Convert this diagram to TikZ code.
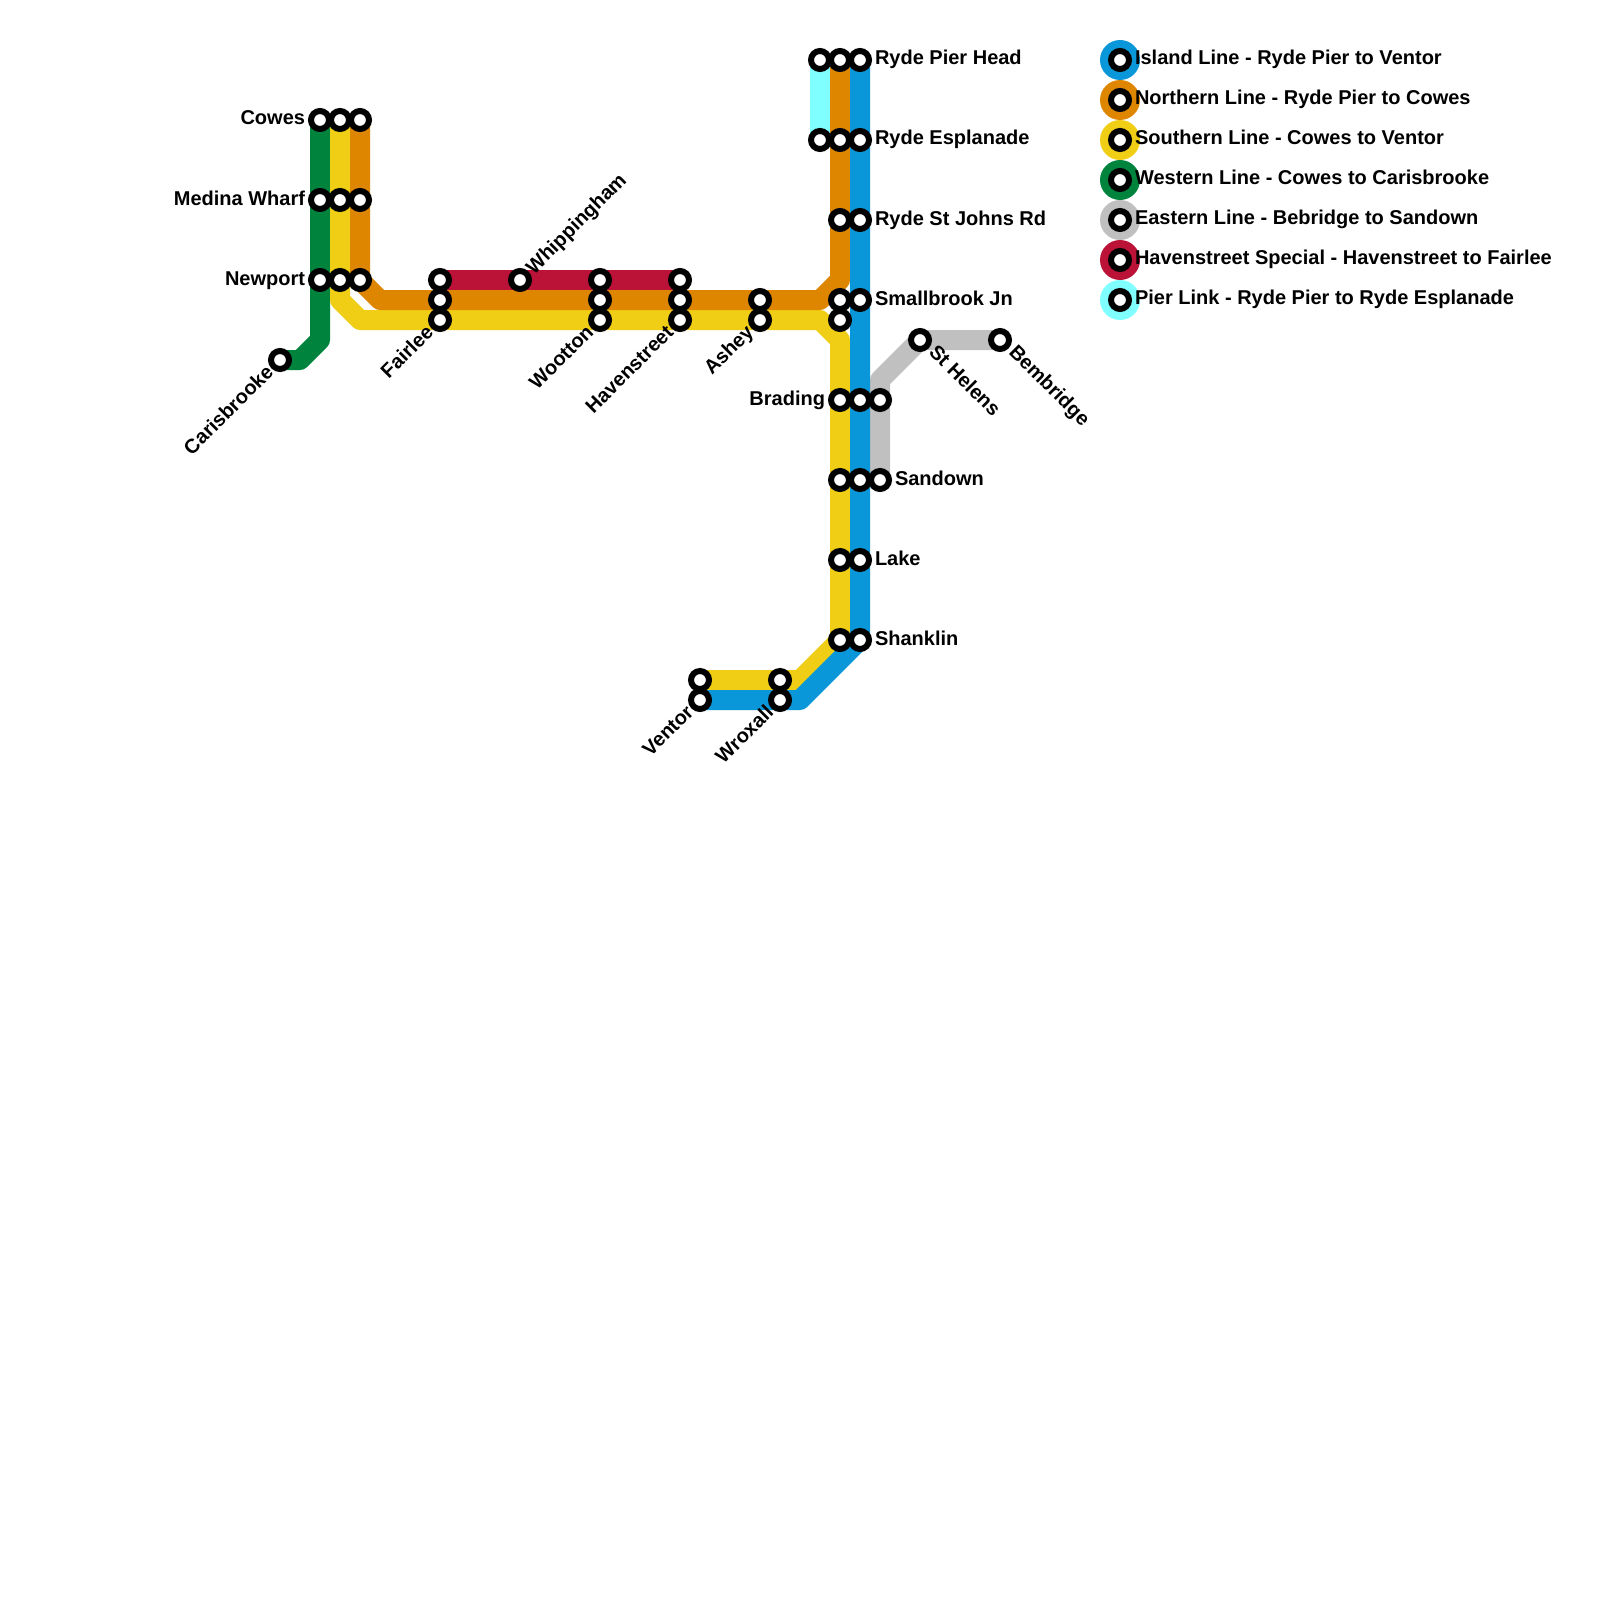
\documentclass[tikz,border=0pt]{standalone}
\usepackage{fontspec}
\setmainfont{Liberation Sans}
\usetikzlibrary{backgrounds}
\definecolor{cblue}{HTML}{0A97D9}
\definecolor{corange}{HTML}{DF8600}
\definecolor{cyellow}{HTML}{F0CE15}
\definecolor{cgreen}{HTML}{00843D}
\definecolor{cgray}{HTML}{C0C0C0}
\definecolor{cred}{HTML}{BB1237}
\definecolor{ccyan}{HTML}{7FFFFF}
\tikzset{
  stn/.style={circle,draw=black,fill=white,line width=3pt,minimum size=9pt,inner sep=0pt,outer sep=0pt},
  lbl/.style={inner sep=0pt,outer sep=0pt,font=\fontsize{10}{12}\selectfont\bfseries,text=black},
  rlbl/.style={lbl,anchor=base west},
  llbl/.style={lbl,anchor=base east},
  uplbl/.style={lbl,anchor=base west,rotate=45},
  dnlbl/.style={lbl,anchor=base west,rotate=-45},
  swlbl/.style={lbl,anchor=base east,rotate=45},
  route/.style={line width=10pt,line join=round,line cap=butt},
  legdot/.style={circle,inner sep=0pt,outer sep=0pt,minimum size=20pt},
}
\begin{document}
\begin{tikzpicture}[x=0.5pt,y=-0.5pt]
\useasboundingbox (0,0) rectangle (1600,1600);
% stations
\foreach \n/\x/\y in {
 cw1/320/120,cw2/340/120,cw3/360/120,
 mw1/320/200,mw2/340/200,mw3/360/200,
 np1/320/280,np2/340/280,np3/360/280,
 car/280/360,
 fa1/440/280,fa2/440/300,fa3/440/320,
 whi/520/280,
 wo1/600/280,wo2/600/300,wo3/600/320,
 ha1/680/280,ha2/680/300,ha3/680/320,
 as1/760/300,as2/760/320,
 sb1/840/300,sb2/840/320,sb3/860/300,
 rp1/820/60,rp2/840/60,rp3/860/60,
 re1/820/140,re2/840/140,re3/860/140,
 rs1/840/220,rs2/860/220,
 br1/840/400,br2/860/400,br3/880/400,
 sa1/840/480,sa2/860/480,sa3/880/480,
 la1/840/560,la2/860/560,
 sh1/840/640,sh2/860/640,
 ve1/700/680,ve2/700/700,
 wr1/780/680,wr2/780/700,
 sth/920/340,bem/1000/340}
 {\node[stn] (\n) at (\x,\y) {};}
% bends
\coordinate (bA) at (840,280); \coordinate (bB) at (820,300);
\coordinate (bC) at (380,300); \coordinate (bD) at (360,280);
\coordinate (bE) at (340,300); \coordinate (bF) at (360,320);
\coordinate (bG) at (820,320); \coordinate (bH) at (840,340);
\coordinate (bI) at (800,680); \coordinate (bJ) at (800,700);
\coordinate (bK) at (320,340); \coordinate (bL) at (300,360);
\coordinate (bM) at (880,380);
\begin{pgfonlayer}{background}
\fill[white] (0,0) rectangle (1600,1600);
\draw[route,ccyan] (rp1.center) -- (re1.center);
\draw[route,cred] (fa1.center) -- (ha1.center);
\draw[route,cgray] (bem.center) -- (sth.center) -- (bM) -- (sa3.center);
\draw[route,cgreen] (cw1.center) -- (bK) -- (bL) -- (car.center);
\draw[route,cyellow] (cw2.center) -- (bE) -- (bF) -- (bG) -- (bH) -- (sh1.center) -- (bI) -- (ve1.center);
\draw[route,corange] (rp2.center) -- (bA) -- (bB) -- (bC) -- (bD) -- (cw3.center);
\draw[route,cblue] (rp3.center) -- (sh2.center) -- (bJ) -- (ve2.center);
\end{pgfonlayer}
% labels
\node[llbl] (tCowes) at (305,125) {Cowes};
\node[llbl] (tMedina) at (305,205) {Medina Wharf};
\node[llbl] (tNewport) at (305,285) {Newport};
\node[swlbl] (tCar) at (274.5,373.5) {Carisbrooke};
\node[swlbl] (tFai) at (434.5,333.5) {Fairlee};
\node[uplbl] (tWhi) at (534,275) {Whippingham};
\node[swlbl] (tWoo) at (594.5,333.5) {Wootton};
\node[swlbl] (tHav) at (674.5,333.5) {Havenstreet};
\node[swlbl] (tAsh) at (754.5,333.5) {Ashey};
\node[swlbl] (tVen) at (694.5,713.5) {Ventor};
\node[swlbl] (tWro) at (774.5,713.5) {Wroxall};
\node[rlbl] at (875,65) (tRP) {Ryde Pier Head};
\node[rlbl] at (875,145) (tRE) {Ryde Esplanade};
\node[rlbl] at (875,225) (tRS) {Ryde St Johns Rd};
\node[rlbl] at (875,305) (tSB) {Smallbrook Jn};
\node[llbl] at (825,405) (tBr) {Brading};
\node[rlbl] at (895,485) (tSa) {Sandown};
\node[rlbl] at (875,565) (tLa) {Lake};
\node[rlbl] at (875,645) (tSh) {Shanklin};
\node[dnlbl] at (928,353) (tSt) {St Helens};
\node[dnlbl] at (1008,353) (tBe) {Bembridge};
% legend
\foreach \i/\y/\c/\t in {
 1/60/cblue/Island Line - Ryde Pier to Ventor,
 2/100/corange/Northern Line - Ryde Pier to Cowes,
 3/140/cyellow/Southern Line - Cowes to Ventor,
 4/180/cgreen/Western Line - Cowes to Carisbrooke,
 5/220/cgray/Eastern Line - Bebridge to Sandown,
 6/260/cred/Havenstreet Special - Havenstreet to Fairlee,
 7/300/ccyan/Pier Link - Ryde Pier to Ryde Esplanade}
 {\node[legdot,fill=\c] (ld\i) at (1120,\y) {};
  \node[stn] (ls\i) at (1120,\y) {};
  \node[rlbl] (lt\i) at (1135,\y+4.8) {\t};}
\end{tikzpicture}
\end{document}
